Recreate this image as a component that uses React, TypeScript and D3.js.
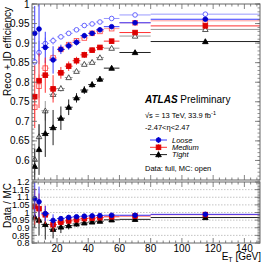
import React from "react";
import * as d3 from "d3";

// E_T bins [GeV]
const etLow = [4.5, 7, 10, 15, 20, 25, 30, 35, 40, 45, 50, 60, 80];
const etHigh = [7, 10, 15, 20, 25, 30, 35, 40, 45, 50, 60, 80, 150];

// Efficiencies (main panel)
const looseData = [0.925, 0.936, 0.889, 0.857, 0.884, 0.893, 0.902, 0.919, 0.925, 0.934, 0.942, 0.952, 0.961];
const looseDataErr = [0.07, 0.07, 0.04, 0.035, 0.012, 0.01, 0.008, 0.007, 0.006, 0.006, 0.005, 0.004, 0.004];
const looseMC = [0.852, 0.876, 0.899, 0.906, 0.916, 0.925, 0.934, 0.945, 0.949, 0.954, 0.963, 0.972, 0.974];
const looseMCErr = [0.03, 0.03, 0.015, 0.01, 0.006, 0.005, 0.004, 0.003, 0.003, 0.003, 0.002, 0.002, 0.002];

const mediumData = [0.763, 0.804, 0.818, 0.783, 0.824, 0.841, 0.855, 0.87, 0.882, 0.889, 0.905, 0.927, 0.944];
const mediumDataErr = [0.08, 0.07, 0.045, 0.035, 0.015, 0.012, 0.01, 0.008, 0.007, 0.006, 0.005, 0.004, 0.004];
const mediumMC = [0.736, 0.79, 0.836, 0.862, 0.884, 0.896, 0.906, 0.913, 0.925, 0.93, 0.937, 0.952, 0.957];
const mediumMCErr = [0.035, 0.03, 0.02, 0.01, 0.007, 0.006, 0.005, 0.004, 0.003, 0.003, 0.003, 0.002, 0.002];

const tightData = [0.585, 0.628, 0.669, 0.684, 0.708, 0.736, 0.76, 0.78, 0.794, 0.808, 0.836, 0.876, 0.904];
const tightDataErr = [0.045, 0.065, 0.06, 0.045, 0.03, 0.02, 0.012, 0.01, 0.008, 0.007, 0.005, 0.004, 0.004];
const tightMC = [0.603, 0.661, 0.727, 0.769, 0.784, 0.812, 0.828, 0.846, 0.851, 0.863, 0.887, 0.918, 0.935];
const tightMCErr = [0.04, 0.03, 0.025, 0.012, 0.008, 0.006, 0.005, 0.004, 0.004, 0.003, 0.003, 0.002, 0.002];

// Data / MC ratios (lower panel)
const looseRatio = [1.09, 1.07, 0.993, 0.948, 0.96, 0.968, 0.972, 0.976, 0.978, 0.98, 0.982, 0.982, 0.988];
const looseRatioErr = [0.12, 0.1, 0.05, 0.04, 0.015, 0.012, 0.01, 0.008, 0.007, 0.007, 0.006, 0.005, 0.005];
const mediumRatio = [1.04, 1.025, 0.985, 0.92, 0.937, 0.945, 0.952, 0.96, 0.963, 0.966, 0.972, 0.977, 0.986];
const mediumRatioErr = [0.12, 0.1, 0.06, 0.045, 0.02, 0.015, 0.012, 0.01, 0.009, 0.008, 0.007, 0.006, 0.005];
const tightRatio = [0.97, 0.95, 0.922, 0.89, 0.905, 0.914, 0.925, 0.932, 0.938, 0.943, 0.952, 0.955, 0.967];
const tightRatioErr = [0.07, 0.1, 0.1, 0.06, 0.04, 0.025, 0.018, 0.014, 0.012, 0.01, 0.008, 0.006, 0.006];

const xTicks = [20, 40, 60, 80, 100, 120, 140];
const yMainTicks = [0.6, 0.65, 0.7, 0.75, 0.8, 0.85, 0.9, 0.95, 1];
const yMainLabels = ["0.6", "0.65", "0.7", "0.75", "0.8", "0.85", "0.9", "0.95", "1"];
const yRatioTicks = [0.8, 0.85, 0.9, 0.95, 1, 1.05, 1.1, 1.15, 1.2];
const yRatioLabels = ["0.8", "0.85", "0.9", "0.95", "1", "1.05", "1.1", "1.15", "1.2"];
const legendNames = ["Loose", "Medium", "Tight"];

const FONT = "'Liberation Sans', Arial, Helvetica, sans-serif";

type Shape = "circle" | "square" | "triangle";

function Marker({ cx, cy, shape, filled, color }: { cx: number; cy: number; shape: Shape; filled: boolean; color: string }) {
  const fill = filled ? color : "white";
  const sw = 0.9;
  if (shape === "circle") return <circle cx={cx} cy={cy} r={2.3} fill={fill} stroke={color} strokeWidth={sw} />;
  if (shape === "square") return <rect x={cx - 2.3} y={cy - 2.3} width={4.6} height={4.6} fill={fill} stroke={color} strokeWidth={sw} />;
  const s = 2.8;
  const pts = `${cx},${cy - s} ${cx - s},${cy + s * 0.75} ${cx + s},${cy + s * 0.75}`;
  return <polygon points={pts} fill={fill} stroke={color} strokeWidth={sw} />;
}

export default function App() {
  const W = 264, H = 266;
  const L = 32, R = 260;
  const x = d3.scaleLinear().domain([4, 150]).range([L, R]);
  const yM = d3.scaleLinear().domain([0.55, 1.0]).range([180, 4]);
  const yR = d3.scaleLinear().domain([0.8, 1.2]).range([243, 182]);

  const mainSeries = [
    { v: looseMC, e: looseMCErr, color: "#5555ff", bar: "#9a9aff", shape: "circle" as Shape, filled: false },
    { v: mediumMC, e: mediumMCErr, color: "#ff5555", bar: "#ff9a9a", shape: "square" as Shape, filled: false },
    { v: tightMC, e: tightMCErr, color: "#444444", bar: "#999999", shape: "triangle" as Shape, filled: false },
    { v: looseData, e: looseDataErr, color: "#0000cc", bar: "#3a3aff", shape: "circle" as Shape, filled: true },
    { v: mediumData, e: mediumDataErr, color: "#dd0000", bar: "#ff3030", shape: "square" as Shape, filled: true },
    { v: tightData, e: tightDataErr, color: "#000000", bar: "#222222", shape: "triangle" as Shape, filled: true },
  ];
  const ratioSeries = [
    { v: tightRatio, e: tightRatioErr, color: "#000000", bar: "#222222", shape: "triangle" as Shape },
    { v: mediumRatio, e: mediumRatioErr, color: "#dd0000", bar: "#ff3030", shape: "square" as Shape },
    { v: looseRatio, e: looseRatioErr, color: "#0000cc", bar: "#3a3aff", shape: "circle" as Shape },
  ];

  const xMinor = d3.range(8, 150, 4).filter((t) => !xTicks.includes(t));
  const yMainMinor = d3.range(0.55, 1.0001, 0.01).map((v) => +v.toFixed(3));
  const yRatioMinor = d3.range(0.8, 1.2001, 0.01).map((v) => +v.toFixed(3));
  const grid = [0.85, 0.9, 0.95, 1, 1.05, 1.1, 1.15];

  const frame = "#666666";

  const drawSeries = (s: any, y: any, filled: boolean, key: string) => (
    <g key={key}>
      {s.v.map((v: number, i: number) => (
        <g key={i}>
          <line x1={x(etLow[i])} x2={x(etHigh[i])} y1={y(v)} y2={y(v)} stroke={s.bar} strokeWidth={1} />
          <line x1={x((etLow[i] + etHigh[i]) / 2)} x2={x((etLow[i] + etHigh[i]) / 2)} y1={y(v - s.e[i])} y2={y(v + s.e[i])} stroke={s.bar} strokeWidth={1} />
        </g>
      ))}
      {s.v.map((v: number, i: number) => (
        <Marker key={"m" + i} cx={x((etLow[i] + etHigh[i]) / 2)} cy={y(v)} shape={s.shape} filled={filled} color={s.color} />
      ))}
    </g>
  );

  const yTop = yM.range()[1], yBot = yM.range()[0];
  const rTop = yR.range()[1], rBot = yR.range()[0];

  const xTickMarks = (top: number, bot: number) => (
    <g>
      {xTicks.map((t) => (
        <g key={"M" + t}>
          <line x1={x(t)} x2={x(t)} y1={bot} y2={bot - 5} stroke={frame} strokeWidth={0.8} />
          <line x1={x(t)} x2={x(t)} y1={top} y2={top + 5} stroke={frame} strokeWidth={0.8} />
        </g>
      ))}
      {xMinor.map((t) => (
        <g key={"m" + t}>
          <line x1={x(t)} x2={x(t)} y1={bot} y2={bot - 2.5} stroke={frame} strokeWidth={0.8} />
          <line x1={x(t)} x2={x(t)} y1={top} y2={top + 2.5} stroke={frame} strokeWidth={0.8} />
        </g>
      ))}
    </g>
  );

  const yTickMarks = (y: any, major: number[], minor: number[]) => (
    <g>
      {minor.map((t, i) => (
        <g key={"m" + i}>
          <line x1={L} x2={L + 2.5} y1={y(t)} y2={y(t)} stroke={frame} strokeWidth={0.7} />
          <line x1={R} x2={R - 2.5} y1={y(t)} y2={y(t)} stroke={frame} strokeWidth={0.7} />
        </g>
      ))}
      {major.map((t, i) => (
        <g key={"M" + i}>
          <line x1={L} x2={L + 5} y1={y(t)} y2={y(t)} stroke={frame} strokeWidth={0.8} />
          <line x1={R} x2={R - 5} y1={y(t)} y2={y(t)} stroke={frame} strokeWidth={0.8} />
        </g>
      ))}
    </g>
  );

  return (
    <svg width={W} height={H} style={{ position: "absolute", left: 0, top: 0, background: "white" }} fontFamily={FONT}>
      <defs>
        <clipPath id="clipMain"><rect x={L} y={yTop} width={R - L} height={yBot - yTop} /></clipPath>
        <clipPath id="clipRatio"><rect x={L} y={rTop} width={R - L} height={rBot - rTop} /></clipPath>
      </defs>
      <rect x={0} y={0} width={W} height={H} fill="white" />

      {/* ratio grid */}
      {grid.map((g) => (
        <line key={g} x1={L} x2={R} y1={yR(g)} y2={yR(g)} stroke="#aaaaaa" strokeWidth={0.7} strokeDasharray="1.5,1.5" />
      ))}

      {/* main series */}
      <g clipPath="url(#clipMain)">
        {mainSeries.map((s, k) => drawSeries(s, yM, s.filled, "s" + k))}
      </g>
      {/* ratio series */}
      <g clipPath="url(#clipRatio)">
        {ratioSeries.map((s, k) => drawSeries(s, yR, true, "r" + k))}
      </g>

      {/* frames */}
      <rect x={L} y={yTop} width={R - L} height={yBot - yTop} fill="none" stroke={frame} strokeWidth={1} />
      <rect x={L} y={rTop} width={R - L} height={rBot - rTop} fill="none" stroke={frame} strokeWidth={1} />
      {xTickMarks(yTop, yBot)}
      {xTickMarks(rTop, rBot)}
      {yTickMarks(yM, yMainTicks, yMainMinor)}
      {yTickMarks(yR, yRatioTicks, yRatioMinor)}

      {/* tick labels */}
      {yMainTicks.map((t, i) => (
        <text key={"yl" + i} x={29.5} y={yM(t)} dy="0.36em" textAnchor="end" fontSize={10}>{yMainLabels[i]}</text>
      ))}
      {yRatioTicks.map((t, i) => (
        <text key={"rl" + i} x={29.5} y={yR(t)} dy="0.36em" textAnchor="end" fontSize={9}>{yRatioLabels[i]}</text>
      ))}
      {xTicks.map((t) => (
        <text key={"xl" + t} x={x(t)} y={251.5} textAnchor="middle" fontSize={10}>{t}</text>
      ))}

      {/* axis titles */}
      <text transform={`translate(10.5,${yTop + 3}) rotate(-90)`} textAnchor="end" fontSize={10}>Reco + ID efficiency</text>
      <text transform={`translate(10.5,${rTop + 1}) rotate(-90)`} textAnchor="end" fontSize={10}>Data / MC</text>
      <text x={261} y={260} textAnchor="end" fontSize={10}>
        E<tspan fontSize={7} dy={2}>T</tspan><tspan dy={-2}> [GeV]</tspan>
      </text>

      {/* ATLAS label */}
      <text x={145} y={103} fontSize={10}>
        <tspan fontWeight="bold" fontStyle="italic">ATLAS</tspan>
        <tspan> Preliminary</tspan>
      </text>
      <text x={145} y={118} fontSize={7.5}>
        √s = 13 TeV, 33.9 fb<tspan fontSize={5.5} dy={-3}>-1</tspan>
      </text>
      <text x={145} y={130} fontSize={7.5}>-2.47&lt;η&lt;2.47</text>

      {/* legend */}
      {ratioSeries.slice().reverse().map((s, i) => {
        const ly = 140 + i * 7.3;
        return (
          <g key={"lg" + i}>
            <line x1={150} x2={167} y1={ly} y2={ly} stroke={s.bar} strokeWidth={1} />
            <line x1={158.5} x2={158.5} y1={ly - 3} y2={ly + 3} stroke={s.bar} strokeWidth={1} />
            <Marker cx={158.5} cy={ly} shape={s.shape} filled={true} color={s.color} />
            <text x={172} y={ly} dy="0.36em" fontSize={7.5} fontStyle="italic">{legendNames[i]}</text>
          </g>
        );
      })}
      <text x={145} y={171} fontSize={7.5}>Data: full, MC: open</text>
    </svg>
  );
}
